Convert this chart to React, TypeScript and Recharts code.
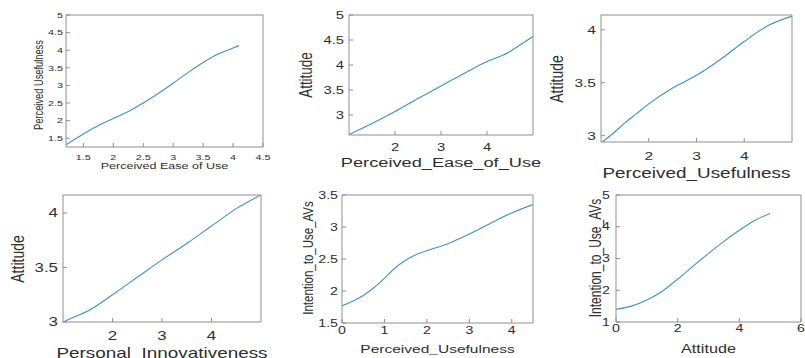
import React from 'react';
import { LineChart, Line, XAxis, YAxis } from 'recharts';

const W = 805;
const H = 358;
const SX = 1.35; // the source figure is stretched sideways, text included
const BLUE = '#3d8ed8';
const BOX = '#8f8f8f';
const INK = '#2e2e2e';
const FONT = '"Liberation Sans", Arial, sans-serif';

// Perceived Ease of Use -> Perceived Usefulness
const p1X = [1.21, 1.5, 1.75, 2, 2.25, 2.5, 2.75, 3, 3.25, 3.5, 3.75, 4, 4.1];
const p1Y = [1.31, 1.62, 1.86, 2.06, 2.26, 2.5, 2.77, 3.06, 3.37, 3.65, 3.89, 4.06, 4.13];
const p1XTicks = [1.5, 2, 2.5, 3, 3.5, 4, 4.5];
const p1YTicks = [1.5, 2, 2.5, 3, 3.5, 4, 4.5, 5];

// Perceived_Ease_of_Use -> Attitude
const p2X = [1, 1.5, 2, 2.5, 3, 3.5, 4, 4.25, 4.5, 4.75, 5];
const p2Y = [2.61, 2.83, 3.07, 3.33, 3.58, 3.83, 4.07, 4.16, 4.27, 4.42, 4.57];
const p2XTicks = [2, 3, 4];
const p2YTicks = [3, 3.5, 4, 4.5, 5];

// Perceived_Usefulness -> Attitude
const p3X = [1, 1.25, 1.5, 1.75, 2, 2.5, 3, 3.5, 4, 4.5, 5];
const p3Y = [2.93, 3.02, 3.12, 3.21, 3.3, 3.45, 3.57, 3.72, 3.89, 4.04, 4.13];
const p3XTicks = [2, 3, 4];
const p3YTicks = [3, 3.5, 4];

// Personal_Innovativeness -> Attitude
const p4X = [1, 1.25, 1.5, 2, 2.5, 3, 3.5, 4, 4.5, 5];
const p4Y = [3.0, 3.05, 3.1, 3.25, 3.41, 3.57, 3.72, 3.88, 4.04, 4.165];
const p4XTicks = [2, 3, 4];
const p4YTicks = [3, 3.5, 4];

// Perceived_Usefulness -> Intention_to_Use_AVs
const p5X = [0, 0.25, 0.5, 0.75, 1, 1.25, 1.5, 1.75, 2, 2.5, 3, 3.5, 4, 4.5];
const p5Y = [1.77, 1.84, 1.93, 2.05, 2.2, 2.36, 2.48, 2.57, 2.63, 2.74, 2.89, 3.06, 3.22, 3.35];
const p5XTicks = [0, 1, 2, 3, 4];
const p5YTicks = [1.5, 2, 2.5, 3, 3.5];

// Attitude -> Intention_to_Use_AVs
const p6X = [0, 0.5, 1, 1.5, 2, 2.5, 3, 3.5, 4, 4.5, 5];
const p6Y = [1.4, 1.5, 1.69, 1.97, 2.35, 2.76, 3.16, 3.54, 3.89, 4.2, 4.42];
const p6XTicks = [0, 2, 4, 6];
const p6YTicks = [1, 2, 3, 4, 5];

const panels = [
  {
    xs: p1X, ys: p1Y, xTicks: p1XTicks, yTicks: p1YTicks,
    xDomain: [1.21, 4.5], yDomain: [1.25, 5],
    xLabel: 'Perceived Ease of Use', yLabel: 'Perceived Usefulness',
    box: { l: 66, t: 15, r: 263, b: 147 },
    tickFs: 8, labelFs: 9.3, xGap: 7, yGap: 3, xLabelY: 166, yLabelX: 39, yLabelY: 85,
  },
  {
    xs: p2X, ys: p2Y, xTicks: p2XTicks, yTicks: p2YTicks,
    xDomain: [1, 5], yDomain: [2.6, 5],
    xLabel: 'Perceived_Ease_of_Use', yLabel: 'Attitude',
    box: { l: 349, t: 15, r: 533, b: 135 },
    tickFs: 11, labelFs: 13.5, xGap: 8, yGap: 5, xLabelY: 162, yLabelX: 305.5, yLabelY: 75,
  },
  {
    xs: p3X, ys: p3Y, xTicks: p3XTicks, yTicks: p3YTicks,
    xDomain: [1, 5], yDomain: [2.94, 4.14],
    xLabel: 'Perceived_Usefulness', yLabel: 'Attitude',
    box: { l: 601, t: 15, r: 792, b: 142 },
    tickFs: 11.5, labelFs: 14, xGap: 10, yGap: 5, xLabelY: 173, yLabelX: 556.7, yLabelY: 79,
  },
  {
    xs: p4X, ys: p4Y, xTicks: p4XTicks, yTicks: p4YTicks,
    xDomain: [1, 5], yDomain: [3, 4.165],
    xLabel: 'Personal_Innovativeness', yLabel: 'Attitude',
    box: { l: 63, t: 195, r: 261, b: 322 },
    tickFs: 12.5, labelFs: 14, xGap: 9, yGap: 5, xLabelY: 353.5, yLabelX: 17, yLabelY: 259,
  },
  {
    xs: p5X, ys: p5Y, xTicks: p5XTicks, yTicks: p5YTicks,
    xDomain: [0, 4.5], yDomain: [1.5, 3.5],
    xLabel: 'Perceived_Usefulness', yLabel: 'Intention_to_Use_AVs',
    box: { l: 342, t: 195, r: 533, b: 323 },
    tickFs: 10.5, labelFs: 11.5, xGap: 4, yGap: 4, xLabelY: 349, yLabelX: 307.5, yLabelY: 258,
  },
  {
    xs: p6X, ys: p6Y, xTicks: p6XTicks, yTicks: p6YTicks,
    xDomain: [0, 6], yDomain: [1, 5],
    xLabel: 'Attitude', yLabel: 'Intention_to_Use_AVs',
    box: { l: 616, t: 195, r: 801, b: 322 },
    tickFs: 10.5, labelFs: 12, xGap: 3, yGap: 6, xLabelY: 349, yLabelX: 595.5, yLabelY: 258,
  },
];

function SText({ x, y, fs, anchor = 'middle', vertical = false, children }: any) {
  const tf = vertical
    ? `translate(${x},${y}) rotate(-90) scale(1,${SX})`
    : `translate(${x},${y}) scale(${SX},1)`;
  return (
    <text transform={tf} x={0} y={0} dy="0.35em" textAnchor={anchor} fontSize={fs} fontFamily={FONT} fill={INK}>
      {children}
    </text>
  );
}

function Panel({ p }: any) {
  const data = p.xs.map((x: number, i: number) => ({ x, y: p.ys[i] }));
  const { l, t, r, b } = p.box;
  const line = { stroke: BOX };
  // top / right axes are 1px deep (0 would hide them), margins absorb that pixel
  return (
    <div style={{ position: 'absolute', left: 0, top: 0 }}>
      <LineChart width={W} height={H} data={data} margin={{ top: t - 1, right: W - r - 1, bottom: 0, left: 0 }}>
        <XAxis
          dataKey="x" type="number" domain={p.xDomain} ticks={p.xTicks} allowDataOverflow interval={0}
          height={H - b} tickSize={-4} tickMargin={p.xGap + 4} axisLine={line} tickLine={line}
          tick={(props: any) => (
            <SText x={props.x} y={props.y + 0.36 * p.tickFs} fs={p.tickFs}>{props.payload.value}</SText>
          )}
          label={() => <SText x={(l + r) / 2} y={p.xLabelY} fs={p.labelFs}>{p.xLabel}</SText>}
        />
        <XAxis
          xAxisId="top" orientation="top" dataKey="x" type="number" domain={p.xDomain} ticks={p.xTicks}
          allowDataOverflow interval={0} height={1} tickSize={-4} tick={false} axisLine={line} tickLine={line}
        />
        <YAxis
          type="number" domain={p.yDomain} ticks={p.yTicks} allowDataOverflow interval={0}
          width={l} tickSize={-4} tickMargin={p.yGap + 4} axisLine={line} tickLine={line}
          tick={(props: any) => (
            <SText x={props.x} y={props.y} fs={p.tickFs} anchor="end">{props.payload.value}</SText>
          )}
          label={() => <SText x={p.yLabelX} y={p.yLabelY} fs={p.labelFs} vertical>{p.yLabel}</SText>}
        />
        <YAxis
          yAxisId="right" orientation="right" type="number" domain={p.yDomain} ticks={p.yTicks}
          allowDataOverflow interval={0} width={1} tickSize={-4} tick={false} axisLine={line} tickLine={line}
        />
        <Line dataKey="y" type="monotone" stroke={BLUE} strokeWidth={1.1} dot={false} isAnimationActive={false} />
      </LineChart>
    </div>
  );
}

export default function App() {
  return (
    <div style={{ position: 'absolute', left: 0, top: 0, width: W, height: H, background: '#fff', overflow: 'hidden' }}>
      {panels.map((p, i) => (
        <Panel key={i} p={p} />
      ))}
    </div>
  );
}
